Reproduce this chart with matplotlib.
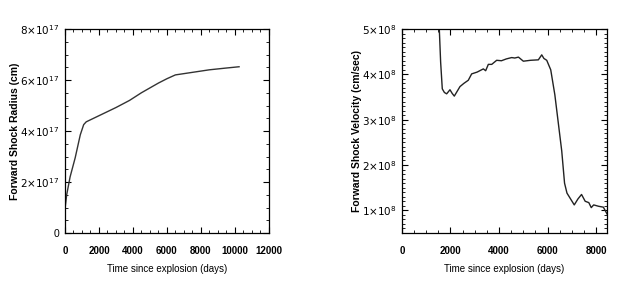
import numpy as np
import matplotlib.pyplot as plt
from matplotlib.ticker import MultipleLocator

# Forward shock radius vs time
t_rad = [0, 100, 300, 600, 900, 1100, 1250, 2000, 3000, 3800, 4500, 5500, 6000, 6500,
         7500, 8500, 9500, 10250]
radius = [0.95, 1.5, 2.2, 2.95, 3.85, 4.25, 4.36, 4.6, 4.92, 5.2, 5.5, 5.88, 6.05, 6.2,
          6.3, 6.4, 6.47, 6.52]  # units of 1e17 cm

# Forward shock velocity vs time
t_vel = [1540, 1595, 1663, 1750, 1843, 1980, 2070, 2158, 2392, 2550, 2735, 2873, 3100,
         3354, 3450, 3560, 3700, 3904, 4100, 4300, 4522, 4650, 4800, 5003, 5300, 5621,
         5760, 5850, 5966, 6131, 6300, 6584, 6700, 6800, 6950, 7100, 7250, 7400, 7550,
         7700, 7800, 7900, 8100, 8300, 8450]
velocity = [5.0, 4.27, 3.68, 3.6, 3.57, 3.66, 3.58, 3.52, 3.73, 3.8, 3.87, 4.01, 4.05,
            4.12, 4.08, 4.22, 4.22, 4.31, 4.3, 4.34, 4.37, 4.36, 4.38, 4.29, 4.31, 4.32,
            4.43, 4.35, 4.31, 4.1, 3.55, 2.31, 1.6, 1.38, 1.25, 1.12, 1.25, 1.35, 1.2,
            1.17, 1.06, 1.12, 1.09, 1.07, 0.92]  # units of 1e8 cm/s

rad_ticks = ['0', r'$2{\times}10^{17}$', r'$4{\times}10^{17}$',
             r'$6{\times}10^{17}$', r'$8{\times}10^{17}$']
vel_ticks = [r'$1{\times}10^{8}$', r'$2{\times}10^{8}$', r'$3{\times}10^{8}$',
             r'$4{\times}10^{8}$', r'$5{\times}10^{8}$']

plt.rcParams['font.family'] = ['Liberation Sans', 'DejaVu Sans']

fig = plt.figure(figsize=(6.28, 2.91), dpi=100)
ax1 = fig.add_axes([0.1035, 0.1993, 0.3245, 0.701])
ax2 = fig.add_axes([0.640, 0.1993, 0.3266, 0.701])

ax1.plot(t_rad, np.array(radius) * 1e17, color='#333333', lw=1.0)
ax1.set_xlim(0, 12000)
ax1.set_ylim(0, 8e17)
ax1.xaxis.set_major_locator(MultipleLocator(2000))
ax1.xaxis.set_minor_locator(MultipleLocator(500))
ax1.set_yticks([0, 2e17, 4e17, 6e17, 8e17])
ax1.yaxis.set_minor_locator(MultipleLocator(0.5e17))
ax1.set_yticklabels(rad_ticks)
ax1.set_ylabel('Forward Shock Radius (cm)', fontsize=7.5, fontweight='bold', labelpad=0)

ax2.plot(t_vel, np.array(velocity) * 1e8, color='#222222', lw=1.0)
ax2.set_xlim(0, 8450)
ax2.set_ylim(0.5e8, 5e8)
ax2.xaxis.set_major_locator(MultipleLocator(2000))
ax2.xaxis.set_minor_locator(MultipleLocator(500))
ax2.set_yticks([1e8, 2e8, 3e8, 4e8, 5e8])
ax2.yaxis.set_minor_locator(MultipleLocator(0.1e8))
ax2.set_yticklabels(vel_ticks)
ax2.set_ylabel('Forward Shock Velocity (cm/sec)', fontsize=7.5, fontweight='bold', labelpad=0)

for ax in (ax1, ax2):
    ax.set_xlabel('Time since explosion (days)', fontsize=7, labelpad=6)
    ax.tick_params(which='both', direction='in', top=True, right=True)
    ax.tick_params(which='major', length=4, width=0.8)
    ax.tick_params(which='minor', length=2, width=0.6)
    ax.tick_params(axis='x', pad=9, labelsize=7)
    ax.tick_params(axis='y', pad=4, labelsize=7.5)
    for lab in ax.get_xticklabels():
        lab.set_fontweight('bold')
    for s in ax.spines.values():
        s.set_linewidth(0.9)

fig.savefig('out.png', dpi=100)
